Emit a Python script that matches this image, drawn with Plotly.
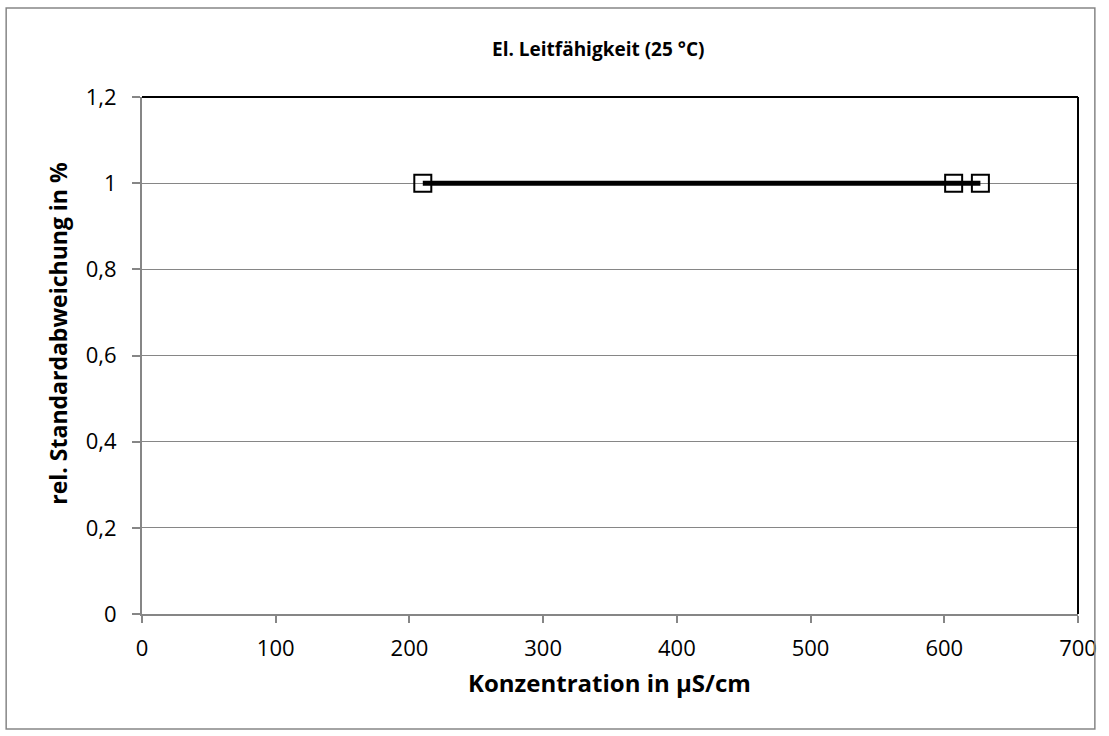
import plotly.graph_objects as go

# Messpunkte (Konzentration in µS/cm, rel. Standardabweichung in %)
konzentration = [210, 607, 627]
rel_stdabw = [1.0, 1.0, 1.0]

x_ticks = [0, 100, 200, 300, 400, 500, 600, 700]
y_ticks = [0, 0.2, 0.4, 0.6, 0.8, 1.0, 1.2]

FONT = "Open Sans"
GRAU = "#868686"
W, H = 1109, 736
L, R, T, B = 142, 23, 97, 122
PW, PH = W - L - R, H - T - B


def px_x(p):
    return (p - L) / PW


def px_y(p):
    return 1 - (p - T) / PH


fig = go.Figure()
fig.add_trace(go.Scatter(
    x=konzentration,
    y=rel_stdabw,
    mode="lines+markers",
    line=dict(color="black", width=5),
    marker=dict(symbol="square-open", size=17, color="black", line=dict(width=2)),
    showlegend=False))

fig.update_layout(
    width=W, height=H,
    margin=dict(l=L, r=R, t=T, b=B),
    paper_bgcolor="white", plot_bgcolor="white",
    separators=", ",
    font=dict(family=FONT, size=22, color="black"),
    xaxis=dict(range=[0, 700], tickvals=x_ticks, showgrid=False, zeroline=False,
               showline=True, linecolor=GRAU, linewidth=2,
               ticks="outside", ticklen=7, tickcolor=GRAU, tickwidth=1.5,
               tickfont=dict(size=22), ticklabelstandoff=7),
    yaxis=dict(range=[0, 1.2], tickvals=y_ticks, showgrid=True, gridcolor=GRAU, gridwidth=1,
               zeroline=False, showline=True, linecolor=GRAU, linewidth=2,
               ticks="outside", ticklen=8, tickcolor=GRAU, tickwidth=1.5,
               tickfont=dict(size=22), ticklabelstandoff=11),
    annotations=[
        dict(text="<b>El. Leitfähigkeit (25 °C)</b>", xref="paper", yref="paper",
             x=px_x(602), y=px_y(49), xanchor="center", yanchor="middle",
             showarrow=False, font=dict(size=19)),
        dict(text="<b>Konzentration in µS/cm</b>", xref="paper", yref="paper",
             x=px_x(613), y=px_y(682), xanchor="center", yanchor="middle",
             showarrow=False, font=dict(size=24)),
        dict(text="<b>rel. Standardabweichung in %</b>", xref="paper", yref="paper",
             x=px_x(57), y=px_y(333), xanchor="center", yanchor="middle",
             showarrow=False, textangle=-90, font=dict(size=23)),
    ],
    shapes=[
        # oberer und rechter Rahmen des Diagrammbereichs
        dict(type="line", xref="paper", yref="paper", x0=0, x1=1, y0=1, y1=1,
             line=dict(color="black", width=2)),
        dict(type="line", xref="paper", yref="paper", x0=1, x1=1, y0=0, y1=1,
             line=dict(color="black", width=2)),
        # äußerer Rahmen
        dict(type="rect", xref="paper", yref="paper",
             x0=px_x(5), x1=px_x(1103), y0=px_y(729), y1=px_y(8),
             line=dict(color=GRAU, width=1.5)),
    ],
)

fig.write_html("out.html", config={"displayModeBar": False},
               post_script="document.body.style.margin='0';")
